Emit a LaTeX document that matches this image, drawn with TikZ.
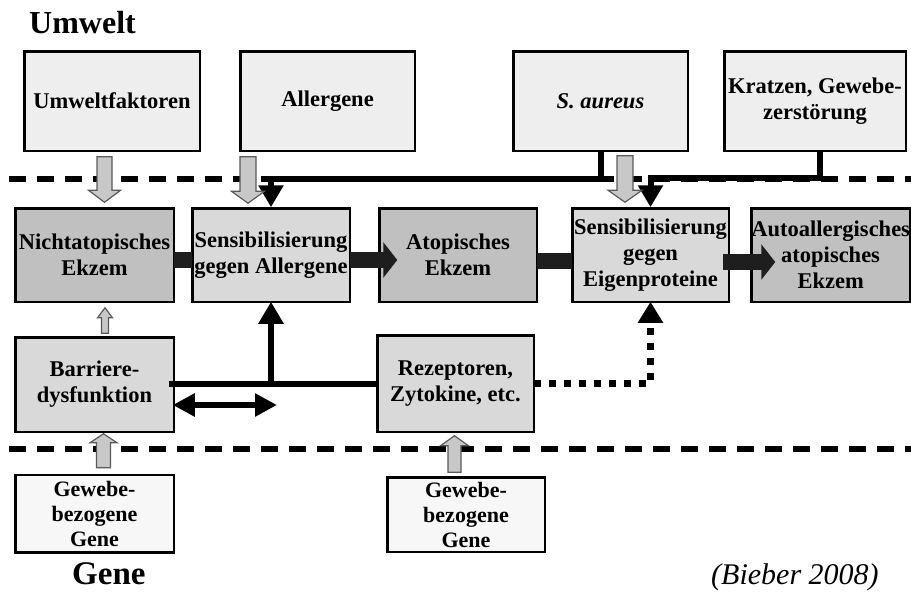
\documentclass[tikz,border=0pt]{standalone}
\usepackage{fontspec}
\setmainfont{Liberation Serif}
\usetikzlibrary{positioning,arrows.meta,calc}
\definecolor{envFill}{HTML}{EEEEEE}
\definecolor{sensFill}{HTML}{D9D9D9}
\definecolor{ekzFill}{HTML}{C0C0C0}
\definecolor{geneFill}{HTML}{F7F7F7}
\definecolor{hollowFill}{HTML}{C8C8C8}
\definecolor{hollowLine}{HTML}{5A5A5A}
\definecolor{barFill}{HTML}{1E1E1E}
\newcommand{\boxfont}{\fontsize{22.5}{26}\selectfont\bfseries}
\newcommand{\genefont}{\fontsize{22}{25}\selectfont\bfseries}
% hollow block arrow: from, tip, half shaft, half head, head length
\newcommand{\hollowarrow}[5]{%
  \draw[hollowtip] let \p1=#1, \p2=#2, \p3=($(\p2)!#5!(\x2,\y1)$) in
    (\x2-#3,\y1) -- (\x2-#3,\y3) -- (\x2-#4,\y3) -- (\x2,\y2)
    -- (\x2+#4,\y3) -- (\x2+#3,\y3) -- (\x2+#3,\y1) -- cycle;}

\begin{document}
\begin{tikzpicture}[x=1pt,y=-1pt,
    box/.style={draw=black,line width=2.5pt,inner sep=0pt,outer sep=0pt,align=center,font=\boxfont},
    envbox/.style={box,fill=envFill,minimum height=99.5pt},
    sensbox/.style={box,fill=sensFill,minimum width=157.5pt,minimum height=93.5pt},
    ekzbox/.style={box,fill=ekzFill,minimum width=157.5pt,minimum height=93.5pt},
    genebox/.style={box,fill=geneFill,font=\genefont},
    sepline/.style={line width=5.5pt,dash pattern=on 17pt off 11pt},
    feedline/.style={line width=6pt},
    feedtip/.style={feedline,-{Triangle[length=22pt,width=24pt]}},
    bigbar/.style={draw=barFill,line width=16pt},
    bigtip/.style={bigbar,-{Triangle[length=14pt,width=35pt]}},
    hollowtip/.style={fill=hollowFill,draw=hollowLine,line width=1.2pt,line join=miter}]
  \useasboundingbox (0,0) rectangle (911,592);

  % region borders
  \draw[sepline] (9,179) -- (911,179);
  \draw[sepline] (9,449) -- (911,449);

  % Umwelt
  \node[anchor=base west,inner sep=0pt,font=\fontsize{32}{32}\selectfont\bfseries] (umweltlabel) at (29,33) {Umwelt};
  \node[envbox,minimum width=175.5pt] (umwelt) at (112,101) {Umweltfaktoren};
  \node[envbox,minimum width=174.5pt,right=40.5pt of umwelt] (allerg) {Allergene};
  \node[envbox,minimum width=174.5pt,right=98.5pt of allerg] (aureus) {\textit{S. aureus}};
  \node[envbox,minimum width=181.5pt,right=36.5pt of aureus] (kratzen) {Kratzen, Gewebe-\\zerst\"orung};

  % Haut
  \node[ekzbox,minimum width=158.5pt] (nicht) at (94.5,255) {Nichtatopisches\\Ekzem};
  \node[sensbox,right=18.5pt of nicht] (sensall) {Sensibilisierung\\gegen Allergene};
  \node[ekzbox,right=29.5pt of sensall] (atop) {Atopisches\\Ekzem};
  \node[sensbox,minimum width=156.5pt,right=35.5pt of atop] (senseig) {Sensibilisierung\\gegen\\Eigenproteine};
  \node[ekzbox,minimum width=156.5pt,right=22.5pt of senseig] (auto) {Autoallergisches\\atopisches\\Ekzem};

  \node[sensbox,minimum width=158.5pt,minimum height=94.5pt] (barriere) at (94.5,384.5) {Barriere-\\dysfunktion};
  \node[sensbox,minimum width=156.5pt,minimum height=96.5pt] (rezept) at (455.5,383.5) {Rezeptoren,\\Zytokine, etc.};

  % Gene
  \node[genebox,minimum width=158.5pt,minimum height=77.5pt] (geneA) at (94.5,513.5) {Gewebe-\\bezogene\\Gene};
  \node[genebox,minimum width=157.5pt,minimum height=74.5pt] (geneB) at (466,514.5) {Gewebe-\\bezogene\\Gene};
  \node[anchor=base west,inner sep=0pt,font=\fontsize{33}{33}\selectfont\bfseries] (genelabel) at (72,584) {Gene};
  \node[anchor=base west,inner sep=0pt,font=\fontsize{30}{30}\selectfont\itshape] (source) at (711,584) {(Bieber 2008)};

  % feedback from the environment
  \draw[feedtip] (aureus.south) |- ($(sensall.north)+(0,-29)$) -- ($(sensall.north)+(0,-1)$);
  \draw[feedtip] ($(kratzen.south)+(5,0)$) |- ($(senseig.north)+(0,-30)$) -- ($(senseig.north)+(0,-1)$);

  % main path
  \draw[bigbar] ($(nicht.east)+(0,5)$) -- ($(sensall.west)+(0,5)$);
  \draw[bigtip] ($(sensall.east)+(0,5)$) -- ($(atop.west)+(18,5)$);
  \draw[bigbar] ($(atop.east)+(0,6)$) -- ($(senseig.west)+(0,6)$);
  \draw[bigtip] ($(senseig.east)+(-6,7)$) -- ($(auto.west)+(24,7)$);

  % genetic side
  \draw[feedline] ($(barriere.east)+(-5,-1)$) -- (rezept.west);
  \draw[feedtip] (sensall.south |- rezept.west) -- (sensall.south);
  \draw[feedline,{Triangle[length=22pt,width=22pt]}-{Triangle[length=22pt,width=22pt]}]
    ($(barriere.east)+(-1,20.5)$) -- ($(barriere.east -| sensall.south)+(6,20.5)$);
  \draw[feedline,line width=7pt,dash pattern=on 7pt off 8pt,-{Triangle[length=21pt,width=24pt]}]
    (rezept.east) -| (senseig.south);

  % hollow arrows
  \hollowarrow{($(umwelt.south)+(0,6)$)}{($(nicht.north)+(10,-6)$)}{7.5pt}{16pt}{12pt}
  \hollowarrow{($(allerg.south)+(0,6)$)}{($(sensall.north)+(-23,-5)$)}{8pt}{16.5pt}{12pt}
  \hollowarrow{($(aureus.south)+(0,5)$)}{($(senseig.north)+(-25.5,-6)$)}{8pt}{17pt}{12pt}
  \hollowarrow{($(barriere.north)+(0,-4)$)}{($(nicht.south)+(10.5,6)$)}{3.5pt}{7.5pt}{10pt}
  \hollowarrow{($(geneA.north)+(0,-7)$)}{($(barriere.south)+(9,2)$)}{7pt}{13.5pt}{9pt}
  \hollowarrow{($(geneB.north)+(0,-5)$)}{($(rezept.south)+(-1,4)$)}{6.5pt}{14pt}{10pt}
\end{tikzpicture}
\end{document}
